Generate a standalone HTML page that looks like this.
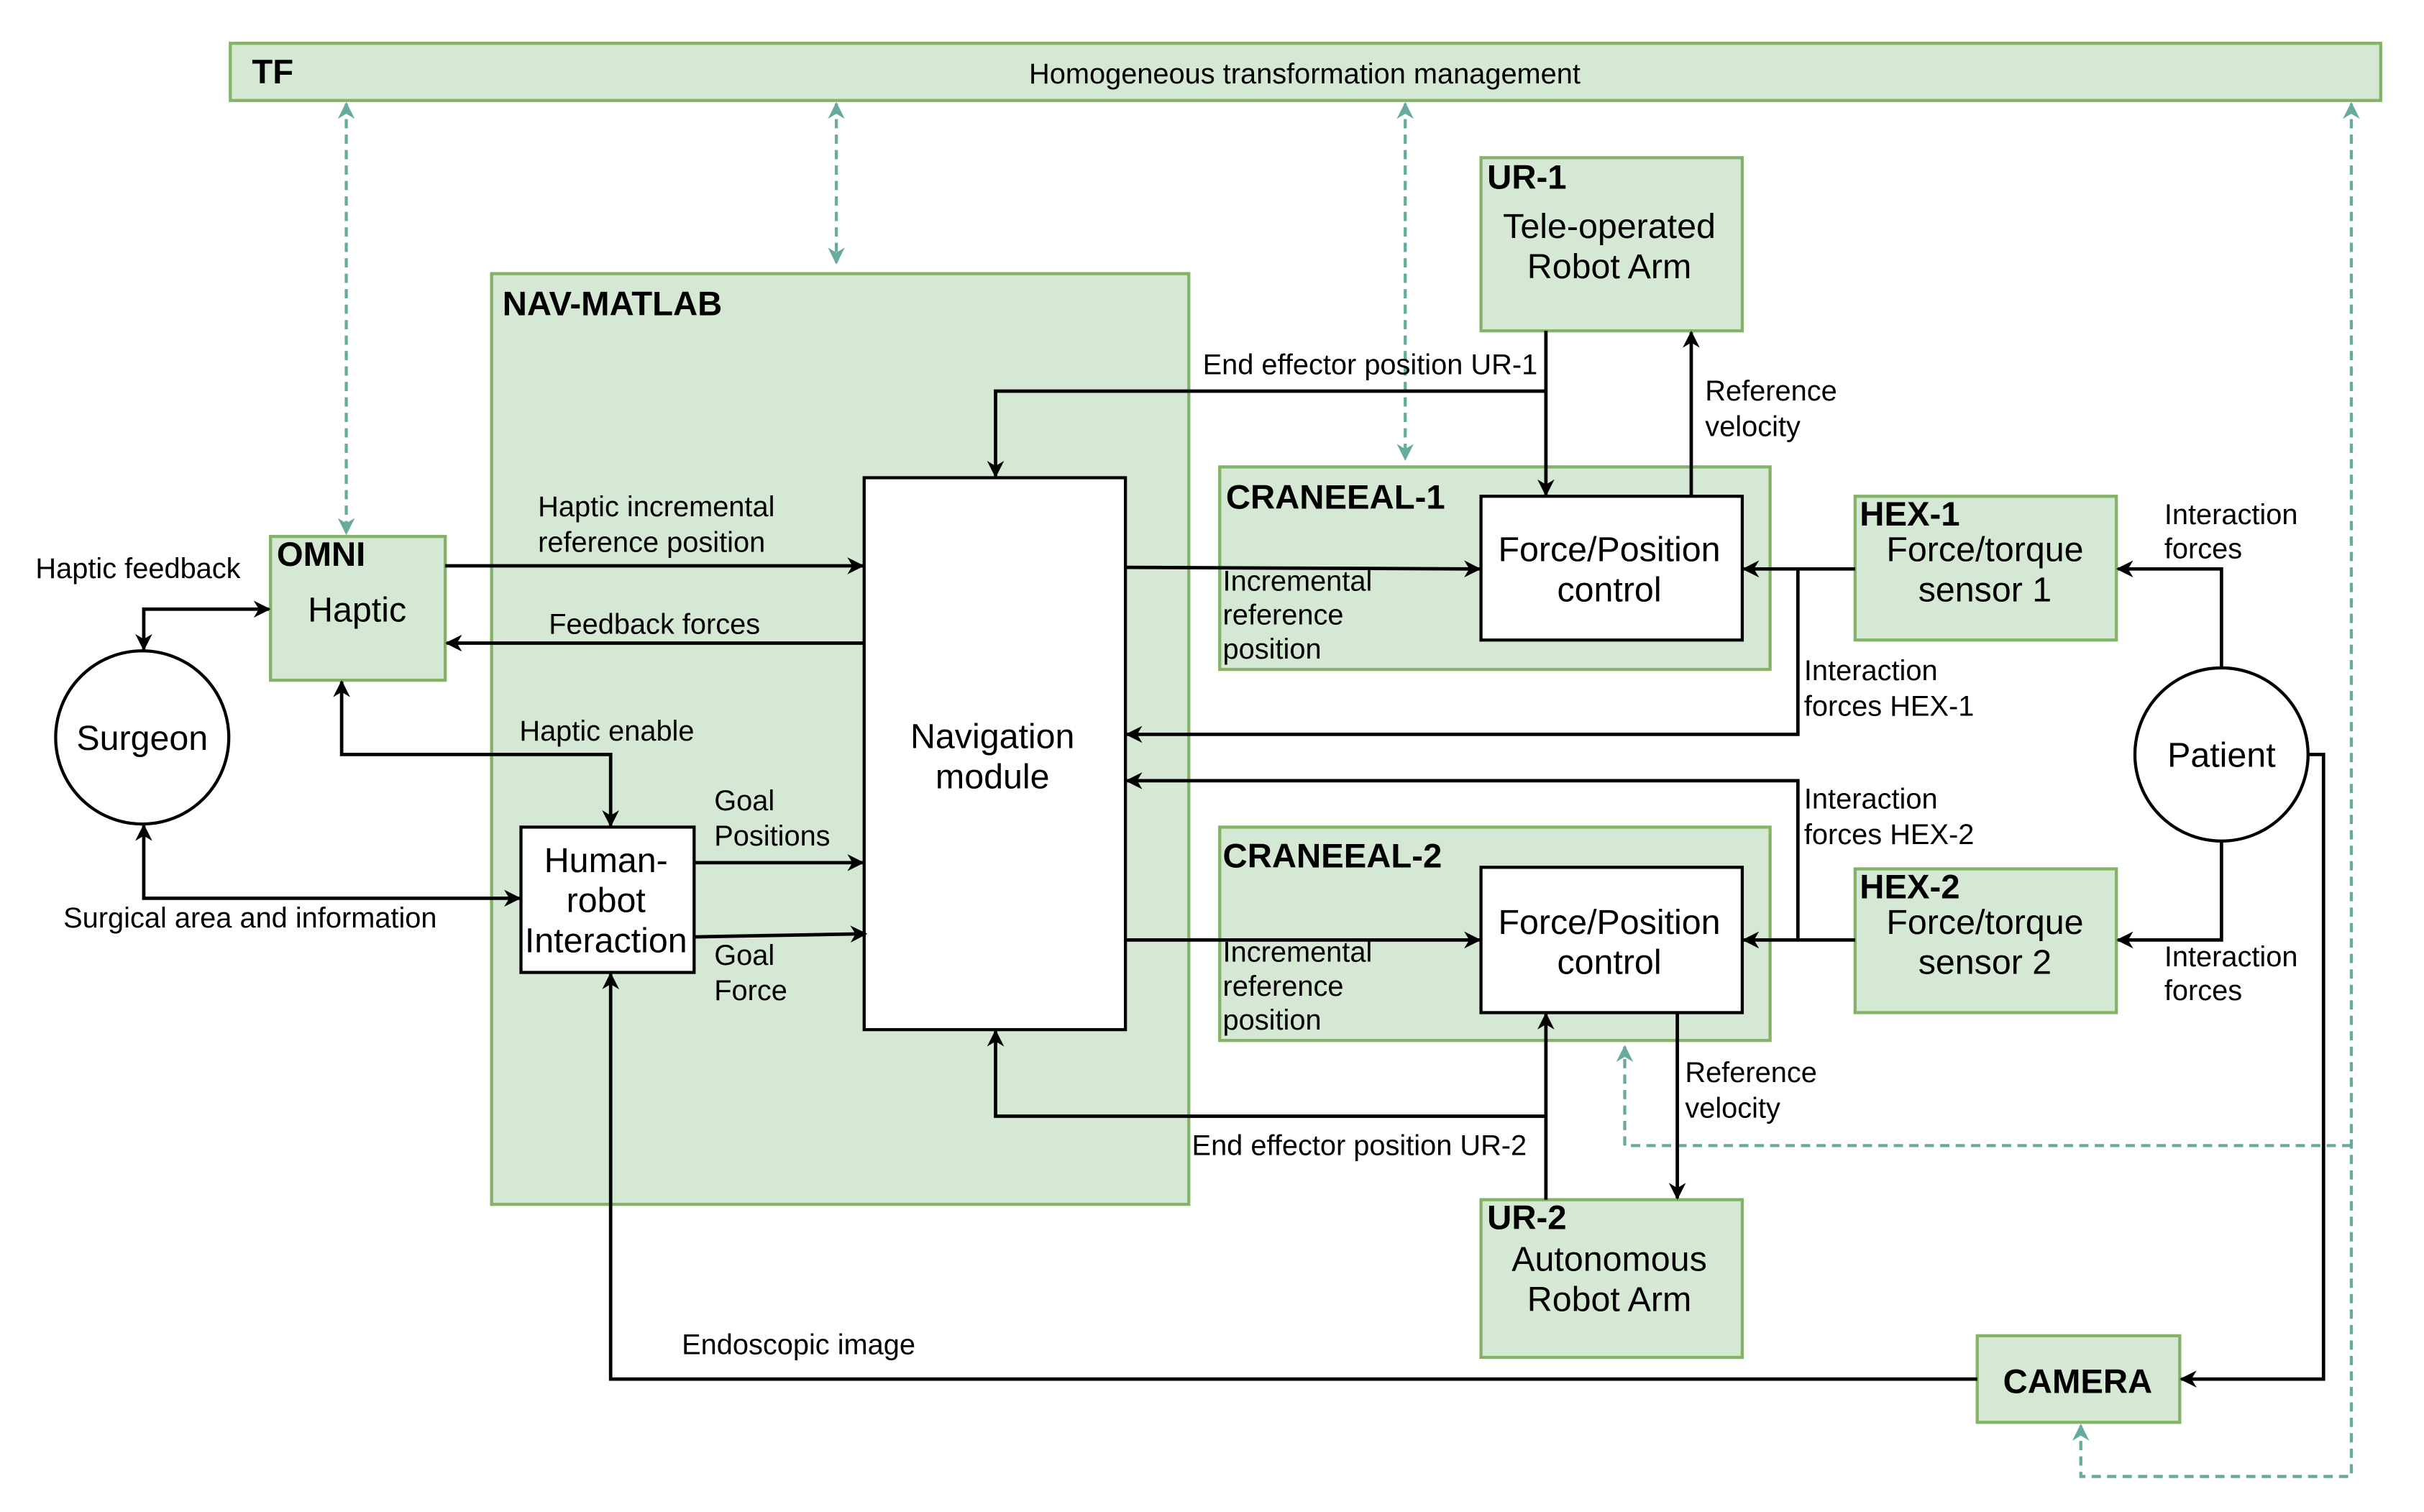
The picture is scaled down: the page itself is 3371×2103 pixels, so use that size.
<!DOCTYPE html>
<html><head><meta charset="utf-8"><style>html,body{margin:0;padding:0;background:#fff}svg{display:block}</style></head>
<body>
<svg width="3371" height="2103" viewBox="0 0 1568 978" preserveAspectRatio="none" xmlns="http://www.w3.org/2000/svg" font-family="Liberation Sans, Arial, sans-serif">
<defs>
<marker id="a" viewBox="0 0 10 10" refX="9" refY="5" markerWidth="11" markerHeight="11" markerUnits="userSpaceOnUse" orient="auto-start-reverse"><path d="M0,0 L10,5 L0,10 L3,5 z" fill="#000"/></marker>
<marker id="t" viewBox="0 0 10 10" refX="9" refY="5" markerWidth="11" markerHeight="11" markerUnits="userSpaceOnUse" orient="auto-start-reverse"><path d="M0,0 L10,5 L0,10 L3,5 z" fill="#67ab9f"/></marker>
</defs>
<g fill="#d5e8d4" stroke="#82b366" stroke-width="2">
<rect x="149" y="28" width="1391" height="37"/>
<rect x="318" y="177" width="451" height="602"/>
<rect x="958" y="102" width="169" height="112"/>
<rect x="789" y="302" width="356" height="131"/>
<rect x="1200" y="321" width="169" height="93"/>
<rect x="789" y="535" width="356" height="138"/>
<rect x="1200" y="562" width="169" height="93"/>
<rect x="958" y="776" width="169" height="102"/>
<rect x="1279" y="864" width="131" height="56"/>
<rect x="175" y="347" width="113" height="93"/>
</g>
<g fill="#fff" stroke="#000" stroke-width="2">
<rect x="958" y="321" width="169" height="93"/>
<rect x="958" y="561" width="169" height="94"/>
<rect x="559" y="309" width="169" height="357"/>
<rect x="337" y="535" width="112" height="94"/>
<circle cx="1437" cy="488" r="56"/>
<circle cx="92" cy="477" r="56"/>
</g>
<g fill="none" stroke="#67ab9f" stroke-width="2" stroke-dasharray="6,4">
<path d="M224,67 V345" marker-start="url(#t)" marker-end="url(#t)"/>
<path d="M541,67 V170" marker-start="url(#t)" marker-end="url(#t)"/>
<path d="M909,67 V297" marker-start="url(#t)" marker-end="url(#t)"/>
<path d="M1521,67 V955 H1346 V922" marker-start="url(#t)" marker-end="url(#t)"/>
<path d="M1521,741 H1051 V677" marker-end="url(#t)"/>
</g>
<g fill="none" stroke="#000" stroke-width="2.2">
<path d="M174,394 H93 V420" marker-start="url(#a)" marker-end="url(#a)"/>
<path d="M288,366 H558" marker-end="url(#a)"/>
<path d="M559,416 H289" marker-end="url(#a)"/>
<path d="M221,441 V488 H395 V534" marker-start="url(#a)" marker-end="url(#a)"/>
<path d="M93,534 V581 H336" marker-start="url(#a)" marker-end="url(#a)"/>
<path d="M449,558 H558" marker-end="url(#a)"/>
<path d="M449,606 L560,604" marker-end="url(#a)"/>
<path d="M728,367 L957,368" marker-end="url(#a)"/>
<path d="M728,608 H957" marker-end="url(#a)"/>
<path d="M1000,214 V320" marker-end="url(#a)"/>
<path d="M1000,253 H644 V308" marker-end="url(#a)"/>
<path d="M1094,321 V215" marker-end="url(#a)"/>
<path d="M1200,368 H1128" marker-end="url(#a)"/>
<path d="M1163,368 V475 H729" marker-end="url(#a)"/>
<path d="M1200,608 H1128" marker-end="url(#a)"/>
<path d="M1163,608 V505 H729" marker-end="url(#a)"/>
<path d="M1437,432 V368 H1370" marker-end="url(#a)"/>
<path d="M1437,544 V608 H1370" marker-end="url(#a)"/>
<path d="M1085,655 V775" marker-end="url(#a)"/>
<path d="M1000,776 V656" marker-end="url(#a)"/>
<path d="M1000,722 H644 V667" marker-end="url(#a)"/>
<path d="M1493,488 H1503 V892 H1411" marker-end="url(#a)"/>
<path d="M1279,892 H395 V630" marker-end="url(#a)"/>
</g>
<g font-weight="bold" font-size="22" fill="#000">
<text x="163" y="54">TF</text>
<text x="325" y="204">NAV-MATLAB</text>
<text x="962" y="122">UR-1</text>
<text x="793" y="329">CRANEEAL-1</text>
<text x="1203" y="340">HEX-1</text>
<text x="791" y="561">CRANEEAL-2</text>
<text x="1203" y="581">HEX-2</text>
<text x="962" y="795">UR-2</text>
<text x="179" y="366">OMNI</text>
<text x="1344" y="901" text-anchor="middle">CAMERA</text>
</g>
<g font-size="22.5" fill="#000" text-anchor="middle">
<text x="1041" y="154">Tele-operated</text><text x="1041" y="180">Robot Arm</text>
<text x="1041" y="363">Force/Position</text><text x="1041" y="389">control</text>
<text x="1284" y="363">Force/torque</text><text x="1284" y="389">sensor 1</text>
<text x="1041" y="604">Force/Position</text><text x="1041" y="630">control</text>
<text x="1284" y="604">Force/torque</text><text x="1284" y="630">sensor 2</text>
<text x="1041" y="822">Autonomous</text><text x="1041" y="848">Robot Arm</text>
<text x="642" y="484">Navigation</text><text x="642" y="510">module</text>
<text x="392" y="564">Human-</text><text x="392" y="590">robot</text><text x="392" y="616">Interaction</text>
<text x="231" y="402">Haptic</text>
<text x="1437" y="496">Patient</text>
<text x="92" y="485">Surgeon</text>
</g>
<g font-size="18.5" fill="#000">
<text x="844" y="54" text-anchor="middle">Homogeneous transformation management</text>
<text x="23" y="374">Haptic feedback</text>
<text x="348" y="334">Haptic incremental</text><text x="348" y="357">reference position</text>
<text x="355" y="410">Feedback forces</text>
<text x="336" y="479">Haptic enable</text>
<text x="41" y="600">Surgical area and information</text>
<text x="462" y="524">Goal</text><text x="462" y="547">Positions</text>
<text x="462" y="624">Goal</text><text x="462" y="647">Force</text>
<text x="791" y="382">Incremental</text><text x="791" y="404">reference</text><text x="791" y="426">position</text>
<text x="791" y="622">Incremental</text><text x="791" y="644">reference</text><text x="791" y="666">position</text>
<text x="778" y="242">End effector position UR-1</text>
<text x="1103" y="259">Reference</text><text x="1103" y="282">velocity</text>
<text x="1167" y="440">Interaction</text><text x="1167" y="463">forces HEX-1</text>
<text x="1167" y="523">Interaction</text><text x="1167" y="546">forces HEX-2</text>
<text x="1400" y="339">Interaction</text><text x="1400" y="361">forces</text>
<text x="1400" y="625">Interaction</text><text x="1400" y="647">forces</text>
<text x="1090" y="700">Reference</text><text x="1090" y="723">velocity</text>
<text x="771" y="747">End effector position UR-2</text>
<text x="441" y="876">Endoscopic image</text>
</g>
</svg>
</body></html>
